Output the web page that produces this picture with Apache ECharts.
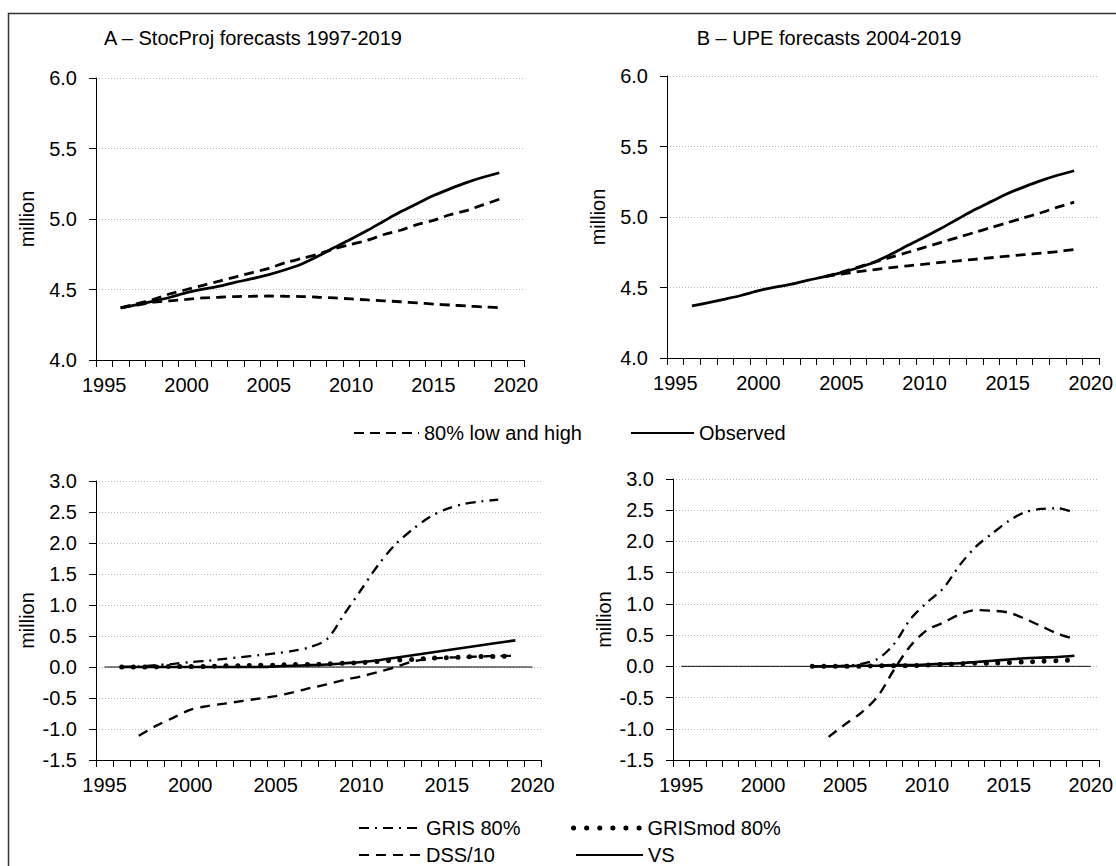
<!DOCTYPE html>
<html><head><meta charset="utf-8">
<script src="https://cdn.jsdelivr.net/npm/echarts@6/dist/echarts.min.js"></script>
<style>html,body{margin:0;padding:0;background:#fff}#chart{width:1116px;height:866px}</style>
</head><body><div id="chart"></div>
<script>
// ---------- DATA ----------
const years = ['1995','1996','1997','1998','1999','2000','2001','2002','2003','2004','2005','2006','2007','2008','2009','2010','2011','2012','2013','2014','2015','2016','2017','2018','2019','2020'];
const yTop = { min: 4.0, max: 6.0, step: 0.5 };
const yBottom = { min: -1.5, max: 3.0, step: 0.5 };

// Observed population (million), 1996-2019
const observed = [4.370,4.393,4.418,4.445,4.478,4.503,4.524,4.552,4.577,4.606,4.640,4.681,4.737,4.799,4.858,4.920,4.986,5.051,5.109,5.166,5.214,5.258,5.296,5.328];
// Panel A: StocProj 80% bounds, 1996-2019
const stocHigh = [4.37,4.40,4.43,4.47,4.50,4.53,4.56,4.59,4.62,4.65,4.69,4.72,4.75,4.79,4.82,4.85,4.89,4.92,4.96,4.99,5.03,5.06,5.10,5.14];
const stocLow  = [4.37,4.39,4.41,4.42,4.43,4.44,4.445,4.45,4.452,4.454,4.452,4.45,4.445,4.44,4.433,4.426,4.42,4.413,4.405,4.397,4.39,4.383,4.377,4.371];
// Panel B: UPE 80% bounds, 2004-2019
const upeHigh = [4.577,4.61,4.645,4.68,4.715,4.75,4.785,4.82,4.855,4.89,4.925,4.96,4.995,5.03,5.07,5.105];
const upeLow  = [4.577,4.595,4.612,4.627,4.641,4.654,4.666,4.678,4.689,4.700,4.711,4.722,4.733,4.744,4.755,4.770];

// Zero reference line, 1995-2020
const zeroLine = [0,0,0,0,0,0,0,0,0,0,0,0,0,0,0,0,0,0,0,0,0,0,0,0,0,0];
// Panel C (StocProj): GRIS 1996-2018, GRISmod 1996-2019, DSS/10 1997-2019, VS 1996-2019
const grisA    = [0.00,0.01,0.03,0.05,0.08,0.10,0.13,0.16,0.19,0.22,0.26,0.32,0.45,0.85,1.25,1.65,1.98,2.22,2.42,2.55,2.63,2.67,2.70];
const grisModA = [0.00,0.00,0.00,0.01,0.01,0.01,0.02,0.02,0.03,0.03,0.04,0.04,0.05,0.06,0.07,0.09,0.11,0.12,0.14,0.15,0.16,0.17,0.17,0.18];
const dssA     = [-1.11,-0.95,-0.82,-0.69,-0.63,-0.59,-0.55,-0.51,-0.47,-0.41,-0.34,-0.28,-0.21,-0.15,-0.08,0.00,0.09,0.13,0.15,0.16,0.17,0.18,0.18];
const vsA      = [0.00,0.00,0.00,0.00,0.00,0.00,0.00,0.00,0.00,0.01,0.02,0.03,0.04,0.06,0.08,0.11,0.15,0.19,0.23,0.27,0.31,0.35,0.39,0.43];
// Panel D (UPE): GRIS 2003-2019, GRISmod 2003-2019, DSS/10 2004-2019, VS 2003-2019
const grisB    = [0.00,0.00,0.01,0.04,0.12,0.36,0.76,1.02,1.25,1.62,1.92,2.13,2.33,2.47,2.52,2.53,2.46];
const grisModB = [0.00,0.00,0.00,0.00,0.01,0.01,0.01,0.02,0.03,0.04,0.05,0.05,0.06,0.07,0.08,0.09,0.10];
const dssB     = [-1.13,-0.93,-0.74,-0.48,-0.05,0.33,0.58,0.70,0.83,0.90,0.89,0.86,0.76,0.64,0.52,0.44];
const vsB      = [0.00,0.00,0.00,0.01,0.01,0.02,0.02,0.03,0.04,0.05,0.07,0.09,0.11,0.13,0.14,0.15,0.17];

const titles = ['A – StocProj forecasts 1997-2019', 'B – UPE forecasts 2004-2019'];

// ---------- HELPERS ----------
function place(startYear, values) {
  const out = years.map(() => null);
  const i0 = years.indexOf(String(startYear));
  values.forEach((v, i) => { out[i0 + i] = v; });
  return out;
}
const FONT = '"Liberation Sans", Arial, sans-serif';
const BLACK = '#000';
const FS = 20;

const S = {
  observed: { width: 2.8, type: 'solid' },
  band:     { width: 2.8, type: [10, 6] },
  gris:     { width: 2.3, type: [10, 6, 2, 6] },
  grisMod:  { width: 5, type: [0.1, 11.5], cap: 'round' },
  dss:      { width: 2.4, type: [10, 7] },
  vs:       { width: 2.6, type: 'solid' },
  zero:     { width: 1, type: 'solid' }
};

function line(name, gi, data, st, z) {
  return {
    type: 'line', name, xAxisIndex: gi, yAxisIndex: gi, data,
    symbol: 'none', smooth: 0.3, connectNulls: false, z: z || 2,
    lineStyle: Object.assign({ color: BLACK }, st),
    itemStyle: { color: BLACK },
    emphasis: { disabled: true }, silent: true
  };
}

function xAxis(gi) {
  return {
    type: 'category', gridIndex: gi, data: years, boundaryGap: true,
    axisLine: { onZero: false, lineStyle: { color: BLACK, width: 1 } },
    axisTick: { show: true, interval: 0, length: 7, lineStyle: { color: BLACK } },
    axisLabel: { interval: 4, color: BLACK, fontSize: FS, fontFamily: FONT, margin: 15 },
    splitLine: { show: false }
  };
}
function yAxis(gi, r, nameGap) {
  return {
    type: 'value', gridIndex: gi, min: r.min, max: r.max, interval: r.step,
    axisLine: { show: true, onZero: false, lineStyle: { color: BLACK, width: 1 } },
    axisTick: { show: true, length: 7, lineStyle: { color: BLACK } },
    axisLabel: { color: BLACK, fontSize: FS, fontFamily: FONT, margin: 19, formatter: v => v.toFixed(1) },
    splitLine: { show: true, lineStyle: { color: '#b4b4b4', type: [1, 2], width: 1 } },
    name: 'million', nameLocation: 'middle', nameGap: nameGap,
    nameTextStyle: { color: BLACK, fontSize: FS, fontFamily: FONT }
  };
}
function legend(name, left, top, w, lineStyle) {
  const l = {
    data: [name], left, top, padding: 0, itemWidth: w, itemHeight: 18,
    selectedMode: false,
    itemStyle: { opacity: 0 },
    textStyle: { color: BLACK, fontSize: FS, fontFamily: FONT, padding: [0, 0, 0, 0] }
  };
  if (lineStyle) l.lineStyle = lineStyle;
  return l;
}

const option = {
  animation: false,
  backgroundColor: '#fff',
  textStyle: { fontFamily: FONT },
  grid: [
    { left: 96, top: 78, width: 428, height: 282 },
    { left: 667, top: 76, width: 434, height: 282 },
    { left: 96, top: 481, width: 445, height: 279 },
    { left: 673, top: 479, width: 427, height: 281 }
  ],
  xAxis: [xAxis(0), xAxis(1), xAxis(2), xAxis(3)],
  yAxis: [yAxis(0, yTop, 59), yAxis(1, yTop, 59), yAxis(2, yBottom, 59), yAxis(3, yBottom, 59)],
  legend: [
    legend('80% low and high', 353, 423, 65),
    legend('Observed', 630, 423, 63),
    legend('GRIS 80%', 358, 818, 62),
    legend('GRISmod 80%', 571, 818, 69, { width: 5, type: [0.1, 13], cap: 'round', color: BLACK }),
    legend('DSS/10', 358, 845, 62),
    legend('VS', 575, 845, 67)
  ],
  graphic: [
    { type: 'rect', shape: { x: 8.5, y: 13.5, width: 1200, height: 1000 }, style: { fill: 'none', stroke: '#333', lineWidth: 1.5 }, silent: true },
    { type: 'text', x: 253, y: 38, style: { text: titles[0], fill: BLACK, font: FS + 'px ' + FONT, textAlign: 'center', textVerticalAlign: 'middle' }, silent: true },
    { type: 'text', x: 829, y: 38, style: { text: titles[1], fill: BLACK, font: FS + 'px ' + FONT, textAlign: 'center', textVerticalAlign: 'middle' }, silent: true }
  ],
  series: [
    line('80% low and high', 0, place(1996, stocHigh), S.band),
    line('80% low and high', 0, place(1996, stocLow), S.band),
    line('Observed', 0, place(1996, observed), S.observed, 3),
    line('80% low and high', 1, place(2004, upeHigh), S.band),
    line('80% low and high', 1, place(2004, upeLow), S.band),
    line('Observed', 1, place(1996, observed), S.observed, 3),

    line('zero', 2, zeroLine, S.zero, 1),
    line('GRIS 80%', 2, place(1996, grisA), S.gris),
    line('DSS/10', 2, place(1997, dssA), S.dss),
    line('VS', 2, place(1996, vsA), S.vs),
    line('GRISmod 80%', 2, place(1996, grisModA), S.grisMod, 3),

    line('zero', 3, zeroLine, S.zero, 1),
    line('GRIS 80%', 3, place(2003, grisB), S.gris),
    line('DSS/10', 3, place(2004, dssB), S.dss),
    line('VS', 3, place(2003, vsB), S.vs),
    line('GRISmod 80%', 3, place(2003, grisModB), S.grisMod, 3)
  ]
};

const chart = echarts.init(document.getElementById('chart'), null, { renderer: 'svg' });
chart.setOption(option);
</script>
</body></html>
